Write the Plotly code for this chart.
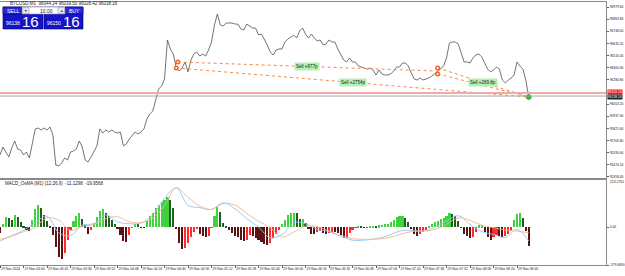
import plotly.graph_objects as go

# ---------------- data ----------------
step_min = 2  # minutes between price / histogram samples
price_close = [
    95568, 95644, 95596, 95549, 95635, 95701, 95625, 95615, 95568, 95596,
    95539, 95692, 95816, 95825, 95806, 95825, 95806, 95835, 95759, 95472,
    95463, 95491, 95539, 95520, 95596, 95606, 95625, 95701, 95644, 95520,
    95501, 95549, 95596, 95654, 95816, 95778, 95806, 95787, 95806, 95787,
    95778, 95787, 95654, 95673, 95720, 95749, 95787, 95768, 95787, 95816,
    95911, 95959, 95987, 96092, 96197, 96226, 96293, 96665, 96579, 96531,
    96398, 96369, 96398, 96455, 96360, 96474, 96531, 96550, 96512, 96531,
    96512, 96569, 96646, 96808, 96913, 96808, 96798, 96827, 96827, 96827,
    96817, 96817, 96770, 96760, 96817, 96798, 96779, 96779, 96713, 96722,
    96674, 96617, 96550, 96522, 96569, 96579, 96579, 96646, 96674, 96693,
    96712, 96684, 96751, 96779, 96722, 96684, 96722, 96684, 96655, 96665,
    96617, 96627, 96665, 96646, 96646, 96579, 96522, 96474, 96455, 96493,
    96455, 96455, 96417, 96407, 96398, 96388, 96398, 96379, 96331, 96379,
    96341, 96331, 96331, 96341, 96369, 96407, 96407, 96445, 96445, 96417,
    96350, 96293, 96283, 96302, 96283, 96293, 96302, 96321, 96341, 96369,
    96388, 96417, 96493, 96636, 96646, 96646, 96627, 96541, 96455, 96455,
    96445, 96493, 96522, 96531, 96503, 96445, 96388, 96360, 96379, 96407,
    96388, 96283, 96255, 96283, 96302, 96331, 96455, 96417, 96388, 96283,
    96121,
]
osma = [
    -30, 16, 47, 44, 36, 57, 47, 24, 5, -16,
    -19, 36, 84, 103, 92, 57, 28, 5, -38, -95,
    -140, -152, -125, -62, -16, 28, 54, 65, 40, 9,
    -35, -16, 21, 47, 76, 87, 65, 51, 36, 14,
    -11, -38, -66, -70, -38, -3, 16, 14, -3, -3,
    30, 51, 65, 92, 104, 117, 130, 142, 128, 92,
    -11, -74, -103, -101, -77, -49, -24, -11, -35, -41,
    -49, -41, -3, 52, 96, 71, 21, 5, -16, -30,
    -40, -49, -62, -68, -62, -36, -41, -54, -63, -70,
    -82, -87, -73, -51, -32, -16, 13, 36, 58, 65,
    68, 66, 40, 40, 19, -6, -32, -33, -25, -19,
    -27, -35, -28, -21, -22, -30, -38, -52, -51, -28,
    -16, -3, 5, 2, -3, -2, 3, 5, 2, 9,
    11, 13, 14, 22, 36, 47, 52, 52, 44, 25,
    -11, -32, -43, -35, -21, -13, 5, 17, 24, 30,
    38, 44, 51, 65, 63, 51, 28, -3, -32, -44,
    -51, -46, -24, 9, 9, -22, -47, -62, -49, -36,
    -41, -49, -44, -35, -19, 32, 63, 65, 41, -20,
    -90,
]
line_step_min = 8
macd_main = [
    -66, -40, -16, 21, 52, -27, -40, 9, 16, 57,
    25, 16, 19, 57, 136, 186, 103, 92, 84, 115,
    87, 40, 0, -51, -35, 21, 16, -11, -21, -44,
    -62, -62, -55, -41, -19, -14, -19, 0, 28, 54,
    13, -21, -35, -49, -11, -66,
]
macd_signal = [
    -58, -43, -22, 0, 44, 33, -16, 3, 13, 40,
    49, 25, 21, 44, 103, 186, 141, 100, 84, 112,
    104, 65, 28, -3, -47, -24, 5, 2, -19, -40,
    -55, -58, -57, -51, -36, -21, -19, -11, 13, 44,
    32, 9, -3, -14, -19, -27,
]
time_tick_labels = [
    "29 Nov 2024", "29 Nov 03:04", "29 Nov 03:20", "29 Nov 03:36", "29 Nov 03:52",
    "29 Nov 04:08", "29 Nov 04:24", "29 Nov 04:40", "29 Nov 04:56", "29 Nov 05:12",
    "29 Nov 05:28", "29 Nov 05:44", "29 Nov 06:00", "29 Nov 06:16", "29 Nov 06:32",
    "29 Nov 06:48", "29 Nov 07:04", "29 Nov 07:20", "29 Nov 07:36", "29 Nov 07:52",
    "29 Nov 08:08", "29 Nov 08:24", "29 Nov 08:40",
]
time_tick_step = 16
price_ticks = [96979.60, 96863.80, 96748.00, 96632.20, 96516.40, 96400.60, 96284.80,
               96053.20, 95937.40, 95821.60, 95705.80, 95590.00, 95474.20, 95358.40]
macd_ticks = [223.275, 0.0, -179.669]
macd_tick_labels = ["223.2750", "0.00", "-179.6690"]

trade_open_min = [121, 120, 298, 298]
trade_open_price = [96455, 96398, 96398, 96341]
trade_close_min = [297, 360, 360, 360]
trade_close_price = [96369, 96121, 96121, 96121]
trade_labels = ["Sell +877p", "Sell +2754p", "Sell +269.8p", ""]

bid_price = 96138.16
ask_price = 96150.16
lot_size = "10.00"
symbol_title = "BTCUSD,M1  96044.24 96039.50 96028.42 96038.16"
macd_title = "MACD_OsMA (M1) (12,26,9)  -11.1298  -19.9568"

# ---------------- figure ----------------
W, H = 625, 276
ML, MR, MT, MB = 0, 19, 2, 11
PW, PH = W - ML - MR, H - MT - MB


def PX(x):
    return (x - ML) / PW


def PY(y):
    return (H - MB - y) / PH


FONT = "Liberation Sans"
price_x = [i * step_min for i in range(len(price_close))]
osma_x = [i * step_min for i in range(len(osma))]
line_x = [k * line_step_min for k in range(len(macd_main))]

colors = []
for i, v in enumerate(osma):
    prev = osma[i - 1] if i > 0 else v
    if v >= 0:
        colors.append("#3fd23f" if v >= prev else "#1d5f1d")
    else:
        colors.append("#5a1212" if v <= prev else "#ff2a2a")

fig = go.Figure()
fig.add_trace(go.Scatter(x=price_x, y=price_close, mode="lines",
                         line=dict(color="#505050", width=0.8),
                         xaxis="x", yaxis="y", hoverinfo="skip"))

# trade lines
for om, op, cm, cp in zip(trade_open_min, trade_open_price, trade_close_min, trade_close_price):
    fig.add_trace(go.Scatter(x=[om, cm], y=[op, cp], mode="lines",
                             line=dict(color="#f28a52", width=1, dash="dot"),
                             xaxis="x", yaxis="y", hoverinfo="skip"))
fig.add_trace(go.Scatter(x=trade_open_min, y=trade_open_price, mode="markers",
                         marker=dict(color="#f0641e", size=5, line=dict(width=0)),
                         xaxis="x", yaxis="y", hoverinfo="skip"))
fig.add_trace(go.Scatter(x=trade_open_min, y=trade_open_price, mode="markers",
                         marker=dict(color="#ffffff", size=2),
                         xaxis="x", yaxis="y", hoverinfo="skip"))
fig.add_trace(go.Scatter(x=[trade_close_min[1]], y=[trade_close_price[1]], mode="markers",
                         marker=dict(color="#22c422", size=5, line=dict(color="#118811", width=0.5)),
                         xaxis="x", yaxis="y", hoverinfo="skip"))

fig.add_trace(go.Bar(x=osma_x, y=osma, marker=dict(color=colors, line=dict(width=0)),
                     width=1.45, xaxis="x2", yaxis="y2", hoverinfo="skip"))
fig.add_trace(go.Scatter(x=line_x, y=macd_main, mode="lines",
                         line=dict(color="#8cc8f5", width=0.9, shape="spline"),
                         xaxis="x2", yaxis="y2", hoverinfo="skip"))
fig.add_trace(go.Scatter(x=line_x, y=macd_signal, mode="lines",
                         line=dict(color="#f5b48c", width=0.9, shape="spline"),
                         xaxis="x2", yaxis="y2", hoverinfo="skip"))

x_max = PW / 1.46875  # minutes visible
main_top_y, main_bot_y = 2, 178
macd_top_y, macd_bot_y = 180, 265

ann = []
# trade labels at midpoints
for om, op, cm, cp, lab in zip(trade_open_min, trade_open_price, trade_close_min,
                               trade_close_price, trade_labels):
    if lab:
        ann.append(dict(x=(om + cm) / 2, y=(op + cp) / 2, xref="x", yref="y", text=lab,
                        showarrow=False, bgcolor="#b4f0b4", borderpad=1,
                        font=dict(size=4.5, color="#1a1a1a", family=FONT)))
# price labels on the right
ann.append(dict(x=1, y=ask_price, xref="paper", yref="y", xanchor="left", yshift=2, xshift=1,
                text=f"{ask_price:.2f}", showarrow=False, bgcolor="#ff1010", borderpad=0,
                font=dict(size=3.3, color="#ffffff", family=FONT)))
ann.append(dict(x=1, y=bid_price, xref="paper", yref="y", xanchor="left", yshift=-2, xshift=1,
                text=f"{bid_price:.2f}", showarrow=False, bgcolor="#202020", borderpad=0,
                font=dict(size=3.3, color="#ffffff", family=FONT)))
# MACD top value label (as annotation so it sits just below the pane top)
ann.append(dict(x=1, y=PY(182.5), xref="paper", yref="paper", xanchor="left", yanchor="middle",
                xshift=2, text=macd_tick_labels[0], showarrow=False,
                font=dict(size=3.3, color="#202020", family=FONT)))
# titles
ann.append(dict(x=PX(8), y=PY(4), xref="paper", yref="paper", xanchor="left", yanchor="middle",
                text=symbol_title, showarrow=False, font=dict(size=4.5, color="#202020", family=FONT)))
ann.append(dict(x=PX(3), y=PY(184), xref="paper", yref="paper", xanchor="left", yanchor="middle",
                text=macd_title, showarrow=False, font=dict(size=4.5, color="#202020", family=FONT)))

shapes = []
# bid / ask lines
shapes.append(dict(type="line", xref="paper", yref="y", x0=0, x1=1, y0=ask_price + 10, y1=ask_price + 10,
                   line=dict(color="#f4a8a8", width=2)))
shapes.append(dict(type="line", xref="paper", yref="y", x0=0, x1=1, y0=bid_price - 8, y1=bid_price - 8,
                   line=dict(color="#a8a8a8", width=1)))

# one-click trading panel
blue = "#1414c8"


def rect(x0, y0, x1, y1, fill, line="#000060"):
    shapes.append(dict(type="rect", xref="paper", yref="paper", x0=PX(x0), x1=PX(x1),
                       y0=PY(y1), y1=PY(y0), fillcolor=fill, line=dict(color=line, width=0.6)))


rect(3, 7, 43, 29, blue)
rect(44, 7, 83, 29, blue)
rect(3, 7, 22, 14, "#2828e0")
rect(65, 7, 83, 14, "#2828e0")
rect(22, 7, 65, 14, "#ffffff", "#9090a0")
rect(22.5, 7.5, 29, 13.5, "#e8e8e8", "#a0a0a0")
rect(58, 7.5, 64.5, 13.5, "#e8e8e8", "#a0a0a0")


def txt(x, y, s, size, color="#ffffff"):
    ann.append(dict(x=PX(x), y=PY(y), xref="paper", yref="paper", text=s, showarrow=False,
                    xanchor="center", yanchor="middle", font=dict(size=size, color=color, family=FONT)))


txt(12.5, 10.5, "SELL", 5)
txt(74, 10.5, "BUY", 5)
txt(25.8, 10.5, "▼", 3.5, "#303030")
txt(61.3, 10.5, "▲", 3.5, "#303030")
txt(46, 10.5, lot_size, 5, "#202020")
txt(13, 23.5, f"{int(bid_price)}", 5)
txt(30, 21.5, f"{bid_price:.2f}"[-2:], 15)
txt(54, 23.5, f"{int(ask_price)}", 5)
txt(71, 21.5, f"{ask_price:.2f}"[-2:], 15)

y_font = dict(size=3.3, color="#202020", family=FONT)
x_font = dict(size=3.4, color="#202020", family=FONT)
fig.update_layout(
    width=W, height=H, margin=dict(l=ML, r=MR, t=MT, b=MB, autoexpand=False),
    paper_bgcolor="#ffffff", plot_bgcolor="#ffffff", showlegend=False,
    hovermode=False,
    xaxis=dict(domain=[0, 1], anchor="y", range=[0, x_max], showticklabels=False,
               showgrid=False, zeroline=False, showline=True, mirror=True, automargin=False,
               linecolor="#8a8a8a", linewidth=1, ticks=""),
    xaxis2=dict(domain=[0, 1], anchor="y2", matches="x", range=[0, x_max],
                tickvals=[i * time_tick_step for i in range(len(time_tick_labels))],
                ticktext=time_tick_labels, ticks="outside", ticklen=2, tickcolor="#606060",
                ticklabelposition="outside right", tickfont=x_font, tickangle=0,
                showgrid=False, zeroline=False, showline=True, mirror=True, automargin=False,
                linecolor="#8a8a8a", linewidth=1),
    yaxis=dict(domain=[PY(main_bot_y), PY(main_top_y)], anchor="x", side="right",
               range=[97046.4 - 9.54 * main_bot_y, 97046.4 - 9.54 * main_top_y],
               tickvals=price_ticks, ticktext=[f"{v:.2f}" for v in price_ticks],
               ticks="outside", ticklen=2, tickcolor="#606060", tickfont=y_font,
               ticklabelstandoff=0, automargin=False,
               showgrid=False, zeroline=False, showline=True, linecolor="#8a8a8a", linewidth=1),
    yaxis2=dict(domain=[PY(macd_bot_y), PY(macd_top_y)], anchor="x2", side="right",
                range=[macd_ticks[2], macd_ticks[0]],
                tickvals=macd_ticks[1:], ticktext=macd_tick_labels[1:],
                ticks="outside", ticklen=2, tickcolor="#606060", tickfont=y_font,
                ticklabelstandoff=0, automargin=False,
                showgrid=False, zeroline=False, showline=True, linecolor="#8a8a8a", linewidth=1),
    bargap=0, shapes=shapes, annotations=ann,
)

fig.write_html("out.html")
